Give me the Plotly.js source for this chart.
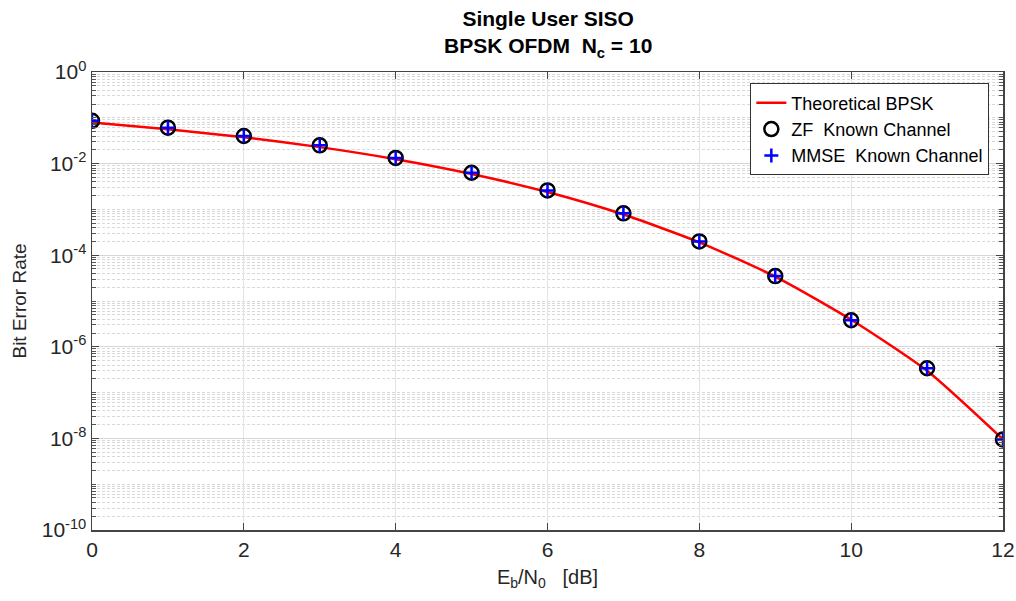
<!DOCTYPE html>
<html>
<head>
<meta charset="utf-8">
<script src="https://cdn.plot.ly/plotly-3.0.1.min.js"></script>
<style>html,body{margin:0;padding:0;background:#fff;}#chart{width:1016px;height:601px;}</style>
</head>
<body>
<div id="chart"></div>
<script>
// Eb/N0 in dB
const ebn0 = [0, 1, 2, 3, 4, 5, 6, 7, 8, 9, 10, 11, 12];
// Theoretical BPSK BER
const berTheory = [0.0786, 0.0563, 0.0375, 0.0229, 0.0125, 0.00595, 0.00239, 7.73e-4, 1.91e-4, 3.4e-5, 3.9e-6, 3.0e-7, 9.5e-9];
// ZF known channel (simulated)
const berZF = [0.086, 0.061, 0.040, 0.025, 0.0133, 0.0063, 0.0026, 8.2e-4, 2.0e-4, 3.5e-5, 3.8e-6, 3.4e-7, 9.5e-9];
// MMSE known channel (simulated)
const berMMSE = [0.086, 0.061, 0.040, 0.025, 0.0133, 0.0063, 0.0026, 8.2e-4, 2.0e-4, 3.5e-5, 3.8e-6, 3.4e-7, 9.5e-9];
// y tick labels
const yTickVals = [1e-10, 1e-8, 1e-6, 1e-4, 1e-2, 1];
const yTickText = ['10<sup>-10</sup>', '10<sup>-8</sup>', '10<sup>-6</sup>', '10<sup>-4</sup>', '10<sup>-2</sup>', '10<sup>0</sup>'];
const titleText = '<b>Single User SISO</b><br><b>BPSK OFDM  N<sub>c</sub> = 10</b>';

const traces = [
  {x: ebn0, y: berTheory, mode: 'lines', name: 'Theoretical BPSK',
   line: {color: '#ff0000', width: 2.5, shape: 'spline', smoothing: 0.6}},
  {x: ebn0, y: berZF, mode: 'markers', name: 'ZF  Known Channel',
   marker: {symbol: 'circle-open', size: 14, color: '#000000', line: {width: 2.5, color: '#000000'}}},
  {x: ebn0, y: berMMSE, mode: 'markers', name: 'MMSE  Known Channel',
   marker: {symbol: 'cross-thin-open', size: 10, color: '#0000ff', line: {width: 2.5, color: '#0000ff'}}}
];

const FF = 'Liberation Sans, Arial, sans-serif';
const axisFont = {family: FF, size: 21, color: '#262626'};

const layout = {
  width: 1016, height: 601,
  margin: {l: 92, r: 13, t: 72, b: 71},
  paper_bgcolor: '#ffffff', plot_bgcolor: '#ffffff',
  font: {family: FF, color: '#262626'},
  annotations: [{text: titleText, xref: 'paper', yref: 'paper', x: 0.5, y: 1.146,
                 xanchor: 'center', yanchor: 'top', showarrow: false, align: 'center',
                 font: {family: FF, size: 21, color: '#000000'}}],
  xaxis: {range: [0, 12], dtick: 2, tick0: 0,
          showgrid: true, gridcolor: '#e3e3e3', gridwidth: 1,
          ticks: 'inside', ticklen: 7, tickcolor: '#444', mirror: 'ticks',
          showline: true, linecolor: '#444', linewidth: 1.5, zeroline: false,
          tickfont: axisFont,
          title: {text: 'E<sub>b</sub>/N<sub>0</sub>   [dB]', font: {family: FF, size: 20, color: '#262626'}, standoff: 10}},
  yaxis: {type: 'log', range: [-10, 0], tickvals: yTickVals, ticktext: yTickText,
          showgrid: true, gridcolor: '#d6d6d6', gridwidth: 1,
          ticks: 'inside', ticklen: 7, tickcolor: '#444', mirror: 'ticks',
          showline: true, linecolor: '#444', linewidth: 1.5, zeroline: false,
          tickfont: axisFont,
          minor: {dtick: 'D1', showgrid: true, gridcolor: '#d9d9d9', griddash: '3px,2px', gridwidth: 1,
                  ticks: 'inside', ticklen: 4, tickcolor: '#555'},
          title: {text: 'Bit Error Rate', font: {family: FF, size: 19, color: '#262626'}, standoff: 10}},
  legend: {x: 0.985, xanchor: 'right', y: 0.975, yanchor: 'top',
           bgcolor: '#ffffff', bordercolor: '#333', borderwidth: 1,
           font: {family: FF, size: 18, color: '#000000'},
           tracegroupgap: 0, itemwidth: 30},
  showlegend: true
};

Plotly.newPlot('chart', traces, layout, {displayModeBar: false, staticPlot: true});
</script>
</body>
</html>
